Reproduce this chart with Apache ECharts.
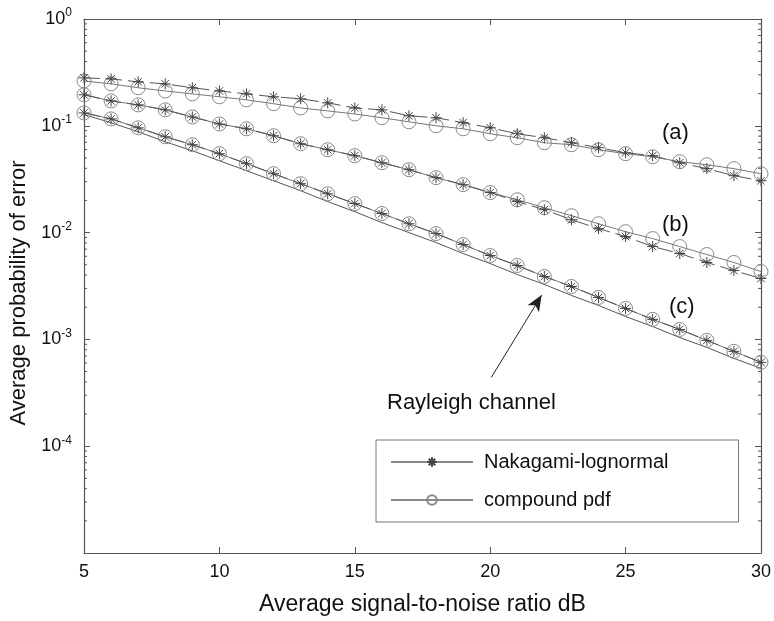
<!DOCTYPE html>
<html>
<head>
<meta charset="utf-8">
<script src="https://cdn.jsdelivr.net/npm/echarts@6/dist/echarts.min.js"></script>
<style>
  html, body { margin: 0; padding: 0; background: #fff; }
  #chart { width: 774px; height: 621px; }
</style>
</head>
<body>
<div id="chart"></div>
<script>
var snr = [5, 6, 7, 8, 9, 10, 11, 12, 13, 14, 15, 16, 17, 18, 19, 20, 21, 22, 23, 24, 25, 26, 27, 28, 29, 30];

// (a)
var nakA = [0.281, 0.275, 0.258, 0.247, 0.227, 0.212, 0.199, 0.187, 0.179, 0.164, 0.147, 0.141, 0.124,
  0.119, 0.107, 0.0958, 0.0842, 0.0773, 0.0694, 0.0623, 0.0560, 0.0525, 0.0451, 0.0397, 0.0341, 0.0306];
var cmpA = [0.263, 0.247, 0.227, 0.212, 0.199, 0.187, 0.175, 0.161, 0.147, 0.138, 0.129, 0.119, 0.109,
  0.100, 0.0938, 0.0842, 0.0773, 0.0694, 0.0665, 0.0597, 0.0548, 0.0513, 0.0461, 0.0432, 0.0397, 0.0356];
// (b)
var nakB = [0.195, 0.171, 0.157, 0.141, 0.121, 0.104, 0.0938, 0.0807, 0.0679, 0.0597, 0.0525, 0.0451, 0.0388,
  0.0327, 0.0281, 0.0237, 0.0195, 0.0164, 0.0132, 0.0109, 0.00918, 0.00740, 0.00637, 0.00525, 0.00441, 0.00372];
var cmpB = [0.195, 0.171, 0.157, 0.141, 0.121, 0.104, 0.0938, 0.0807, 0.0679, 0.0597, 0.0525, 0.0451, 0.0388,
  0.0327, 0.0281, 0.0237, 0.0203, 0.0171, 0.0144, 0.0121, 0.0102, 0.00879, 0.00740, 0.00623, 0.00525, 0.00432];
// (c)
var nakC = [0.132, 0.116, 0.0958, 0.0789, 0.0665, 0.0548, 0.0442, 0.0356, 0.0287, 0.0231, 0.0187, 0.0151, 0.0121,
  0.00979, 0.00773, 0.00610, 0.00492, 0.00388, 0.00313, 0.00247, 0.00195, 0.00154, 0.00124, 0.000979, 0.000773, 0.000610];
var cmpC = nakC.slice();
// Rayleigh channel
var rayleigh = [0.127, 0.107, 0.0879, 0.0709, 0.0584, 0.0471, 0.0380, 0.0306, 0.0247, 0.0195, 0.0157, 0.0124, 0.0100,
  0.00807, 0.00637, 0.00513, 0.00405, 0.00327, 0.00258, 0.00208, 0.00164, 0.00132, 0.00104, 0.000842, 0.000664, 0.000536];

var minorMult = [2, 3, 4, 5, 6, 7, 8, 9];
var decades = [1e-5, 1e-4, 1e-3, 1e-2, 1e-1];

var FONT = '"Liberation Sans", Arial, Helvetica, sans-serif';
var STAR = 'path://M0,5L10,5M5,0L5,10M1.6,1.6L8.4,8.4M8.4,1.6L1.6,8.4';

function pairs(ys) {
  return snr.map(function (x, i) { return [x, ys[i]]; });
}

function nakSeries(ys) {
  return {
    name: 'Nakagami-lognormal', type: 'line', data: pairs(ys),
    symbol: STAR, symbolSize: 11, showAllSymbol: true, z: 4,
    lineStyle: { color: '#555', width: 1, type: [16, 6] },
    itemStyle: { color: '#444', borderColor: '#444', borderWidth: 1 }
  };
}
function cmpSeries(ys) {
  return {
    name: 'compound pdf', type: 'line', data: pairs(ys),
    symbol: 'circle', symbolSize: 14, showAllSymbol: true, z: 3,
    lineStyle: { color: '#777', width: 1 },
    itemStyle: { color: 'rgba(0,0,0,0)', borderColor: '#888', borderWidth: 1 }
  };
}

var chart = echarts.init(document.getElementById('chart'));

var tickLine = { color: '#555', width: 1 };

chart.setOption({
  backgroundColor: '#fff',
  animation: false,
  textStyle: { fontFamily: FONT },
  grid: { left: 84, right: 12, top: 19, bottom: 68, containLabel: false },
  xAxis: [{
    type: 'value', min: 5, max: 30, interval: 5,
    name: 'Average signal-to-noise ratio dB', nameLocation: 'middle', nameGap: 40,
    nameTextStyle: { fontSize: 23, color: '#111', fontFamily: FONT },
    axisLine: { lineStyle: { color: '#555', width: 1.2 } },
    axisTick: { inside: true, length: 6, lineStyle: tickLine },
    axisLabel: { fontSize: 18, color: '#111', margin: 10, fontFamily: FONT },
    splitLine: { show: false }
  }, {
    type: 'value', min: 5, max: 30, interval: 5, position: 'top',
    axisLine: { lineStyle: { color: '#555', width: 1.2 } },
    axisTick: { inside: true, length: 6, lineStyle: tickLine },
    axisLabel: { show: false },
    splitLine: { show: false }
  }],
  yAxis: [{
    type: 'log', logBase: 10, min: 1e-5, max: 1,
    name: 'Average probability of error', nameLocation: 'middle', nameGap: 46,
    nameTextStyle: { fontSize: 22, color: '#111', fontFamily: FONT, padding: [0, 14, 0, 0] },
    axisLine: { lineStyle: { color: '#555', width: 1.2 } },
    axisTick: { inside: true, length: 6, lineStyle: tickLine },
    axisLabel: {
      margin: 12, color: '#111',
      formatter: function (v) {
        var e = Math.round(Math.log10(v));
        if (e < -4) return '';
        return '{b|10}{s|' + e + '}';
      },
      rich: {
        b: { fontSize: 18, fontFamily: FONT, color: '#111' },
        s: { fontSize: 12, fontFamily: FONT, color: '#111', padding: [0, 0, 12, 0] }
      }
    },
    splitLine: { show: false }
  }, {
    type: 'log', logBase: 10, min: 1e-5, max: 1, position: 'right',
    axisLine: { lineStyle: { color: '#555', width: 1.2 } },
    axisTick: { inside: true, length: 6, lineStyle: tickLine },
    axisLabel: { show: false },
    splitLine: { show: false }
  }],
  legend: {
    data: ['Nakagami-lognormal', 'compound pdf'],
    orient: 'vertical', left: 376, top: 440,
    padding: [12, 70, 12, 14], itemGap: 18,
    itemWidth: 82, itemHeight: 12,
    borderColor: '#777', borderWidth: 1,
    backgroundColor: '#fff',
    lineStyle: { type: 'solid', color: '#888' },
    textStyle: { fontSize: 20, color: '#111', fontFamily: FONT, padding: [0, 0, 0, 6] }
  },
  series: [
    cmpSeries(cmpA), cmpSeries(cmpB), cmpSeries(cmpC),
    nakSeries(nakA), nakSeries(nakB), nakSeries(nakC),
    {
      name: 'Rayleigh', type: 'line', data: pairs(rayleigh),
      symbol: 'none', z: 2,
      lineStyle: { color: '#555', width: 1 },
      markLine: {
        silent: true, symbol: ['none', 'arrow'], symbolSize: [10, 16],
        lineStyle: { color: '#222', width: 1, type: 'solid' },
        label: { show: false },
        data: [[{ coord: [20.04, 4.4e-4] }, { coord: [21.9, 2.6e-3] }]]
      }
    }
  ]
});

// minor log ticks on both vertical axes, positioned through the y scale
var xl = chart.convertToPixel({ xAxisIndex: 0 }, 5);
var xr = chart.convertToPixel({ xAxisIndex: 0 }, 30);
var gfx = [];
decades.forEach(function (d) {
  minorMult.forEach(function (m) {
    var py = chart.convertToPixel({ yAxisIndex: 0 }, d * m);
    gfx.push({ type: 'line', silent: true, shape: { x1: xl, y1: py, x2: xl + 3, y2: py }, style: { stroke: '#555', lineWidth: 1 } });
    gfx.push({ type: 'line', silent: true, shape: { x1: xr - 3, y1: py, x2: xr, y2: py }, style: { stroke: '#555', lineWidth: 1 } });
  });
});
gfx.push(
  { type: 'text', left: 662, top: 122, style: { text: '(a)', fill: '#111', font: '22px ' + FONT } },
  { type: 'text', left: 662, top: 214, style: { text: '(b)', fill: '#111', font: '22px ' + FONT } },
  { type: 'text', left: 669, top: 296, style: { text: '(c)', fill: '#111', font: '22px ' + FONT } },
  { type: 'text', left: 387, top: 392, style: { text: 'Rayleigh channel', fill: '#111', font: '22px ' + FONT } }
);
chart.setOption({ graphic: gfx });
</script>
</body>
</html>
